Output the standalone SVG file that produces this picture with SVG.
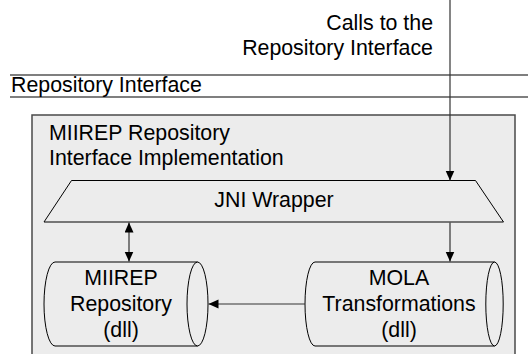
<svg xmlns="http://www.w3.org/2000/svg" width="528" height="354" viewBox="0 0 528 354">
  <style>
    text { font-family: "Liberation Sans", Arial, sans-serif; font-size: 21.33px; fill: #000; }
    .mid { text-anchor: middle; }
    .end { text-anchor: end; }
    .rule { stroke: #000; stroke-width: 1.2; fill: none; }
    .shape { fill: #ececec; stroke: #000; stroke-width: 1; }
    .frame { fill: #ececec; stroke: #4a4a4a; stroke-width: 1.5; }
    .link { stroke: #333; stroke-width: 1.2; fill: none; }
  </style>
  <defs>
    <marker id="arrow" markerUnits="userSpaceOnUse" markerWidth="11" markerHeight="10" refX="10" refY="4.5" orient="auto-start-reverse">
      <path d="M0,0 L10,4.5 L0,9 Z" fill="#000"/>
    </marker>
  </defs>

  <rect width="528" height="354" fill="#fff"/>

  <!-- interface layer: two rules with its label -->
  <g id="repository-interface">
    <line class="rule" x1="10" y1="75" x2="528" y2="75"/>
    <line class="rule" x1="10" y1="97" x2="528" y2="97"/>
    <text x="11" y="92">Repository Interface</text>
  </g>

  <!-- label of the incoming calls -->
  <g id="calls-label">
    <text class="end" x="433" y="30">Calls to the</text>
    <text class="end" x="433" y="55">Repository Interface</text>
  </g>

  <!-- implementation container, open at the bottom -->
  <g id="implementation">
    <rect class="frame" x="32" y="115" width="483" height="250"/>
    <text x="49" y="140">MIIREP Repository</text>
    <text x="49" y="165">Interface Implementation</text>
  </g>

  <g id="jni-wrapper">
    <path class="shape" d="M71.5,180.5 L475.5,180.5 L503.5,222 L44,222 Z"/>
    <text class="mid" x="274" y="206.5">JNI Wrapper</text>
  </g>

  <g id="miirep-repository">
    <path class="shape" d="M55,262 L197.5,262 A10.5,42 0 0 1 197.5,346 L55,346 A11,42 0 0 1 55,262 Z"/>
    <path class="shape" fill="none" d="M197.5,262 A10.5,42 0 0 0 197.5,346" style="fill:none"/>
    <text class="mid" x="121" y="285">MIIREP</text>
    <text class="mid" x="121" y="311">Repository</text>
    <text class="mid" x="121" y="337">(dll)</text>
  </g>

  <g id="mola-transformations">
    <path class="shape" d="M315,262 L494.5,262 A8.7,42 0 0 1 494.5,346 L315,346 A10,42 0 0 1 315,262 Z"/>
    <path class="shape" d="M494.5,262 A8.7,42 0 0 0 494.5,346" style="fill:none"/>
    <text class="mid" x="399" y="285">MOLA</text>
    <text class="mid" x="399" y="311">Transformations</text>
    <text class="mid" x="399" y="337">(dll)</text>
  </g>

  <g id="connectors">
    <line class="link" x1="450" y1="0" x2="450" y2="180.5" marker-end="url(#arrow)"/>
    <line class="link" x1="129" y1="222.5" x2="129" y2="261.5" marker-start="url(#arrow)" marker-end="url(#arrow)"/>
    <line class="link" x1="450" y1="222.5" x2="450" y2="261.5" marker-end="url(#arrow)"/>
    <line class="link" x1="305" y1="304" x2="208.5" y2="304" marker-end="url(#arrow)"/>
  </g>
</svg>
